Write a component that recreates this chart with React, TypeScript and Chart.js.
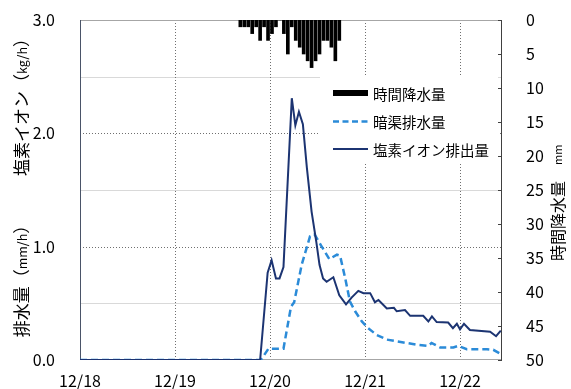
import React, { useEffect, useRef } from "react";
import { Chart, registerables } from "chart.js";

Chart.register(...registerables);

const FONT = '"Noto Sans CJK JP", "Noto Sans", sans-serif';

// Date axis: hours counted from 12/18 0:00
const dayLabels = ["12/18", "12/19", "12/20", "12/21", "12/22"];
const dayHours = [0, 24, 48, 72, 96];
const hourMax = 106.6;

// Hourly rainfall (mm), hour index of each bar
const rainHours = [40, 41, 42, 43, 44, 45, 46, 47, 48, 49, 50, 51, 52, 53, 54, 55, 56, 57, 58, 59, 60, 61, 62, 63, 64, 65];
const rainMm = [1, 1, 1, 2, 1, 3, 1, 3, 2, 1, 0, 2, 5, 1, 3, 4, 5, 6, 7, 6, 5, 3, 3, 4, 6, 3];

// Chloride ion discharge (kg/h)
const chlorideHours = [0, 45.5, 47.4, 48.4, 49.5, 50.4, 51.4, 53.5, 54.4, 55.3, 56.3, 57.3, 58.5, 59.7, 60.5, 61.4, 62.3, 64.0, 65.5, 67.2, 68.6, 70.3, 71.6, 73.3, 74.5, 75.4, 77.5, 79.3, 80.0, 82.1, 83.4, 86.7, 88.0, 88.9, 90.1, 93.0, 94.2, 95.2, 96.0, 97.0, 98.5, 103.6, 105.1, 106.3];
const chlorideKg = [0, 0, 0.77, 0.88, 0.72, 0.72, 0.82, 2.31, 2.07, 2.19, 2.08, 1.7, 1.31, 1.04, 0.84, 0.72, 0.69, 0.73, 0.57, 0.49, 0.55, 0.61, 0.59, 0.59, 0.51, 0.53, 0.455, 0.46, 0.43, 0.44, 0.39, 0.39, 0.34, 0.385, 0.335, 0.33, 0.28, 0.32, 0.27, 0.32, 0.265, 0.25, 0.21, 0.26];

// Subsurface drain discharge (mm/h)
const drainHours = [0, 45.7, 47.6, 49.3, 51.4, 53.3, 54.1, 56.0, 58.1, 59.2, 60.9, 63.0, 64.9, 65.7, 67.0, 68.2, 69.5, 71.2, 72.8, 75.0, 77.5, 81.7, 85.0, 88.0, 88.8, 91.0, 94.3, 95.6, 97.7, 102.8, 104.4, 105.9];
const drainMm = [0, 0, 0.1, 0.1, 0.1, 0.47, 0.51, 0.84, 1.09, 1.11, 1.01, 0.89, 0.93, 0.92, 0.72, 0.515, 0.43, 0.34, 0.28, 0.22, 0.18, 0.155, 0.135, 0.125, 0.15, 0.11, 0.11, 0.125, 0.095, 0.095, 0.09, 0.06];

// Left axis ticks and grid
const leftTicks = [0, 1, 2, 3];
const leftHalfGrid = [0.5, 1.5, 2.5];
const leftWholeGrid = [1, 2];

const NAVY = "#1c3472";
const BLUE = "#2b8bd8";

const legendItems = ["時間降水量", "暗渠排水量", "塩素イオン排出量"];

type Run = { text: string; size: number };

function runsWidth(ctx: CanvasRenderingContext2D, runs: Run[]) {
  let total = 0;
  ctx.save();
  runs.forEach((r) => {
    ctx.font = `${r.size}px ${FONT}`;
    total += ctx.measureText(r.text).width;
  });
  ctx.restore();
  return total;
}

function drawVerticalRuns(ctx: CanvasRenderingContext2D, cx: number, cy: number, runs: Run[]) {
  const total = runsWidth(ctx, runs);
  ctx.save();
  ctx.translate(cx, cy);
  ctx.rotate(-Math.PI / 2);
  ctx.textBaseline = "middle";
  ctx.textAlign = "left";
  ctx.fillStyle = "#000";
  let pos = -total / 2;
  runs.forEach((r) => {
    ctx.font = `${r.size}px ${FONT}`;
    ctx.fillText(r.text, pos, 0);
    pos += ctx.measureText(r.text).width;
  });
  ctx.restore();
}

const decorPlugin = {
  id: "decor",
  beforeDatasetsDraw(chart: any) {
    const { ctx, chartArea: a, scales } = chart;
    const y = scales.y;
    const x = scales.x;
    ctx.save();
    ctx.lineWidth = 1;
    ctx.strokeStyle = "#d9d9d9";
    leftHalfGrid.forEach((v) => {
      const py = Math.round(y.getPixelForValue(v)) + 0.5;
      ctx.beginPath();
      ctx.moveTo(a.left, py);
      ctx.lineTo(a.right, py);
      ctx.stroke();
    });
    ctx.strokeStyle = "#6f6f6f";
    ctx.setLineDash([1, 2]);
    leftWholeGrid.forEach((v) => {
      const py = Math.round(y.getPixelForValue(v)) + 0.5;
      ctx.beginPath();
      ctx.moveTo(a.left, py);
      ctx.lineTo(a.right, py);
      ctx.stroke();
    });
    dayHours.slice(1).forEach((h) => {
      const px = Math.round(x.getPixelForValue(h)) + 0.5;
      ctx.beginPath();
      ctx.moveTo(px, a.top);
      ctx.lineTo(px, a.bottom);
      ctx.stroke();
    });
    ctx.setLineDash([]);
    // frame
    ctx.strokeStyle = "#a6a6a6";
    ctx.beginPath();
    ctx.moveTo(a.left, Math.round(a.top) + 0.5);
    ctx.lineTo(a.right, Math.round(a.top) + 0.5);
    ctx.moveTo(a.left, Math.round(a.bottom) - 0.5);
    ctx.lineTo(a.right, Math.round(a.bottom) - 0.5);
    ctx.stroke();
    ctx.strokeStyle = "#4a5468";
    ctx.beginPath();
    ctx.moveTo(Math.round(a.left) + 0.5, a.top);
    ctx.lineTo(Math.round(a.left) + 0.5, a.bottom);
    ctx.stroke();
    ctx.strokeStyle = "#404040";
    ctx.beginPath();
    ctx.moveTo(Math.round(a.right) - 0.5, a.top);
    ctx.lineTo(Math.round(a.right) - 0.5, a.bottom);
    const yr = scales.yRain;
    yr.ticks.forEach((t: any) => {
      const py = Math.round(yr.getPixelForValue(t.value)) + 0.5;
      ctx.moveTo(a.right - 4, py);
      ctx.lineTo(a.right, py);
    });
    ctx.stroke();
    ctx.restore();
  },
  afterDraw(chart: any) {
    const { ctx, chartArea: a } = chart;
    ctx.save();
    // legend
    const bx = 320;
    const by = 77;
    ctx.fillStyle = "#fff";
    ctx.fillRect(bx, by, a.right - 4 - bx, 86);
    const sx = 333;
    const sw = 35;
    const rows = [93, 121.5, 149];
    ctx.fillStyle = "#000";
    ctx.fillRect(sx, rows[0] - 3, sw, 6);
    ctx.strokeStyle = BLUE;
    ctx.lineWidth = 2.5;
    ctx.setLineDash([6, 3.5]);
    ctx.beginPath();
    ctx.moveTo(sx, rows[1]);
    ctx.lineTo(sx + sw, rows[1]);
    ctx.stroke();
    ctx.setLineDash([]);
    ctx.strokeStyle = NAVY;
    ctx.lineWidth = 2;
    ctx.beginPath();
    ctx.moveTo(sx, rows[2]);
    ctx.lineTo(sx + sw, rows[2]);
    ctx.stroke();
    ctx.font = `14.5px ${FONT}`;
    ctx.textBaseline = "middle";
    ctx.fillStyle = "#000";
    legendItems.forEach((t, i) => ctx.fillText(t, sx + sw + 5, rows[i] + 1));
    ctx.restore();

    // axis titles
    drawVerticalRuns(ctx, 22, 103, [
      { text: "塩素イオン（", size: 17 },
      { text: "kg/h", size: 12.5 },
      { text: "）", size: 17 },
    ]);
    drawVerticalRuns(ctx, 22, 277, [
      { text: "排水量（", size: 17 },
      { text: "mm/h", size: 12.5 },
      { text: "）", size: 17 },
    ]);
    const rightRuns: Run[] = [
      { text: "時間降水量", size: 16 },
      { text: "　", size: 16 },
      { text: "mm", size: 11 },
    ];
    const rw = runsWidth(ctx, rightRuns);
    drawVerticalRuns(ctx, 558, 261 - rw / 2, rightRuns);
  },
};

export default function App() {
  const ref = useRef<HTMLCanvasElement | null>(null);

  useEffect(() => {
    document.body.style.margin = "0";
    const canvas = ref.current;
    if (!canvas) return;
    const tickFont = { family: FONT, size: 16 };
    const vPad = (s: any) => {
      s.paddingTop = 8;
      s.paddingBottom = 8;
    };
    const chart = new Chart(canvas, {
      type: "line",
      data: {
        datasets: [
          {
            type: "line",
            label: legendItems[2],
            data: chlorideHours.map((h, i) => ({ x: h, y: chlorideKg[i] })),
            borderColor: NAVY,
            borderWidth: 2,
            pointRadius: 0,
            tension: 0,
            yAxisID: "y",
            order: 1,
          },
          {
            type: "line",
            label: legendItems[1],
            data: drainHours.map((h, i) => ({ x: h, y: drainMm[i] })),
            borderColor: BLUE,
            borderWidth: 2.5,
            borderDash: [7, 4],
            pointRadius: 0,
            tension: 0,
            yAxisID: "y",
            order: 2,
          },
          {
            type: "bar",
            label: legendItems[0],
            data: rainHours.map((h, i) => ({ x: h + 0.5, y: rainMm[i] })),
            backgroundColor: "#000",
            barThickness: 3,
            yAxisID: "yRain",
            order: 3,
          } as any,
        ],
      },
      options: {
        responsive: false,
        animation: false,
        events: [],
        layout: { padding: { top: 20, right: 0, bottom: 0, left: 0 } },
        plugins: { legend: { display: false }, tooltip: { enabled: false } },
        scales: {
          x: {
            type: "linear",
            offset: false,
            min: 0,
            max: hourMax,
            afterBuildTicks: (s: any) => {
              s.ticks = dayHours.map((v) => ({ value: v }));
            },
            ticks: {
              autoSkip: false,
              maxRotation: 0,
              padding: 3,
              color: "#000",
              font: tickFont,
              callback: (v: any) => {
                const i = dayHours.indexOf(Number(v));
                return i >= 0 ? dayLabels[i] : "";
              },
            },
            grid: { display: false, offset: false },
            border: { display: false },
            afterFit: (s: any) => {
              s.height = 29;
            },
          },
          y: {
            position: "left",
            min: 0,
            max: 3,
            afterBuildTicks: (s: any) => {
              s.ticks = leftTicks.map((v) => ({ value: v }));
            },
            ticks: {
              padding: 17,
              color: "#000",
              font: tickFont,
              callback: (v: any) => Number(v).toFixed(1),
            },
            grid: { display: false },
            border: { display: false },
            afterFit: (s: any) => {
              s.width = 80;
              vPad(s);
            },
          },
          yRain: {
            position: "right",
            min: 0,
            max: 50,
            reverse: true,
            ticks: { stepSize: 5, padding: 16, color: "#000", font: tickFont },
            grid: { display: false },
            border: { display: false },
            afterFit: (s: any) => {
              s.width = 69;
              vPad(s);
            },
          },
        },
      },
      plugins: [decorPlugin],
    } as any);
    return () => chart.destroy();
  }, []);

  return (
    <div style={{ width: 571, height: 389 }}>
      <canvas ref={ref} width={571} height={389} style={{ display: "block" }} />
    </div>
  );
}
